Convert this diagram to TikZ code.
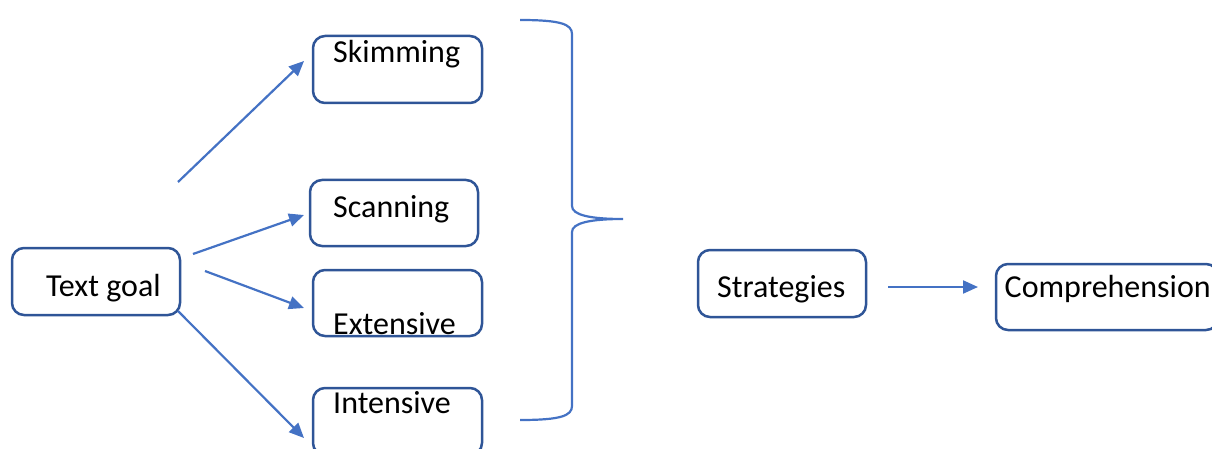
\documentclass[tikz,border=0pt]{standalone}
\usepackage{fontspec}
\setmainfont{Carlito}
\usetikzlibrary{arrows.meta}
\definecolor{boxblue}{HTML}{2F5597}
\definecolor{arrblue}{HTML}{4472C4}
\begin{document}
\begin{tikzpicture}[x=1pt,y=-1pt,
  box/.style={draw=boxblue,line width=2.5pt,rounded corners=12pt,fill=none,inner sep=0pt},
  lbl/.style={anchor=base west,inner sep=0pt,font=\fontsize{32}{36}\selectfont},
  arr/.style={draw=arrblue,line width=2.2pt,-{Triangle[length=15pt,width=13pt]}},
  brace/.style={draw=arrblue,line width=2.2pt}]
\useasboundingbox (0,0) rectangle (1212,449);
% boxes
\node[box,minimum width=168pt,minimum height=67pt] (goal) at (96,281.5) {};
\node[box,minimum width=169pt,minimum height=67pt] (skim) at (397.5,69.5) {};
\node[box,minimum width=168pt,minimum height=66pt] (scan) at (394,213) {};
\node[box,minimum width=169pt,minimum height=66pt] (ext) at (397.5,303) {};
\node[box,minimum width=169pt,minimum height=67pt] (int) at (397.5,421.5) {};
\node[box,minimum width=168pt,minimum height=67pt] (strat) at (782,283.5) {};
\node[box,minimum width=222pt,minimum height=66pt] (comp) at (1107,297) {};
% labels
\node[lbl] (tgoal) at (46,296) {Text goal};
\node[lbl] (tskim) at (333,63) {Skimming};
\node[lbl] (tscan) at (333,218) {Scanning};
\node[lbl] (text) at (333,334) {Extensive};
\node[lbl] (tint) at (333,413) {Intensive};
\node[lbl] (tstrat) at (717,297) {Strategies};
\node[lbl] (tcomp) at (1004.5,297) {Comprehension};
% arrow coordinates
\coordinate (a1s) at (178,182);
\coordinate (a1e) at (304,61);
\coordinate (a2s) at (193,254);
\coordinate (a2e) at (304,215);
\coordinate (a3s) at (205,271);
\coordinate (a3e) at (304,308);
\coordinate (a4s) at (178,311);
\coordinate (a4e) at (304,438);
\coordinate (a5s) at (888,287);
\coordinate (a5e) at (978,287);
\draw[arr] (a1s) -- (a1e);
\draw[arr] (a2s) -- (a2e);
\draw[arr] (a3s) -- (a3e);
\draw[arr] (a4s) -- (a4e);
\draw[arr] (a5s) -- (a5e);
% brace
\coordinate (btop) at (520,20);
\coordinate (btip) at (623,219);
\coordinate (bbot) at (520,420);
\draw[brace] (btop) .. controls (560,20) and (572,24) .. (572,34)
  -- (572,206) .. controls (572,215) and (590,219) .. (btip)
  .. controls (590,219) and (572,223) .. (572,232)
  -- (572,406) .. controls (572,416) and (560,420) .. (bbot);
\end{tikzpicture}
\end{document}
